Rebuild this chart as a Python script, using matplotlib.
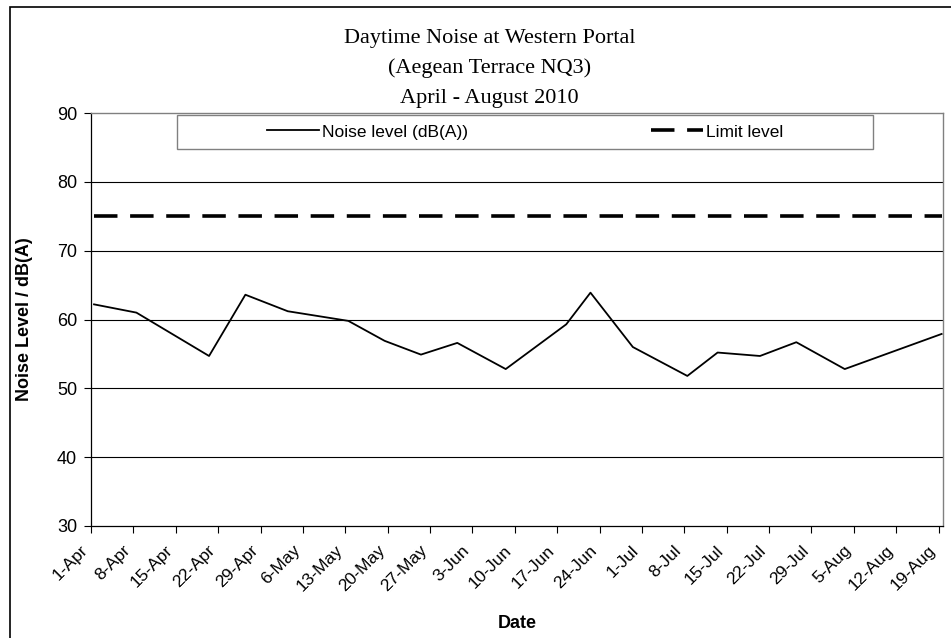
import pandas as pd
import matplotlib
matplotlib.use("Agg")
import matplotlib.pyplot as plt
from matplotlib.patches import Rectangle

# measurement dates and daytime noise levels (dB(A))
dates = ["1-Apr", "8-Apr", "20-Apr", "26-Apr", "3-May", "13-May", "19-May",
         "25-May", "31-May", "8-Jun", "18-Jun", "22-Jun", "29-Jun", "8-Jul",
         "13-Jul", "20-Jul", "26-Jul", "3-Aug", "19-Aug"]
noise = [62.2, 61.0, 54.7, 63.6, 61.2, 59.8, 56.9, 54.9, 56.6, 52.8,
         59.3, 63.9, 56.0, 51.8, 55.2, 54.7, 56.7, 52.8, 57.9]
limit = 75

tick_labels = ["1-Apr", "8-Apr", "15-Apr", "22-Apr", "29-Apr", "6-May", "13-May",
               "20-May", "27-May", "3-Jun", "10-Jun", "17-Jun", "24-Jun", "1-Jul",
               "8-Jul", "15-Jul", "22-Jul", "29-Jul", "5-Aug", "12-Aug", "19-Aug"]
y_ticks = [30, 40, 50, 60, 70, 80, 90]
title_lines = ["Daytime Noise at Western Portal", "(Aegean Terrace NQ3)", "April - August 2010"]


def to_date(s):
    return pd.to_datetime(s + "-2010", format="%d-%b-%Y")


# excel date axis puts each point in the middle of its day
x = [to_date(d) + pd.Timedelta(hours=12) for d in dates]
xt = [to_date(d) for d in tick_labels]

plt.rcParams["font.family"] = ["Liberation Sans", "DejaVu Sans"]

fig = plt.figure(figsize=(9.51, 6.38), dpi=100)
ax = fig.add_axes([91 / 951, 1 - 526 / 638, 852 / 951, 413 / 638])

# outer chart border (only left/top visible in the screenshot)
fig.patches.append(Rectangle((10 / 951, -0.1), 2, 1.1 - 7 / 638, transform=fig.transFigure,
                             fill=False, edgecolor="black", linewidth=1.2))

for yv in y_ticks[1:-1]:
    ax.axhline(yv, color="black", linewidth=0.8, zorder=1)

ax.plot(x, noise, color="black", linewidth=1.3, label="Noise level (dB(A))", zorder=3)
ax.plot([x[0], x[-1]], [limit, limit], color="black", linewidth=2.6,
        linestyle=(0, (6.5, 3.5)), label="Limit level", zorder=3)

ax.set_ylim(30, 90)
ax.set_yticks(y_ticks)
ax.set_xlim(to_date("1-Apr"), pd.Timestamp("2010-08-19 17:30"))
ax.set_xticks(xt)
ax.set_xticklabels(tick_labels, rotation=45, ha="right")
ax.minorticks_off()

ax.tick_params(axis="y", direction="out", length=5, width=0.8, pad=5, labelsize=13)
ax.tick_params(axis="x", direction="out", length=5, width=0.8, pad=7, labelsize=12.5)

for s in ["left", "bottom"]:
    ax.spines[s].set_color("black")
    ax.spines[s].set_linewidth(0.9)
for s in ["top", "right"]:
    ax.spines[s].set_color("#808080")
    ax.spines[s].set_linewidth(1.0)

ax.set_ylabel("Noise Level / dB(A)", fontsize=13, fontweight="bold")
ax.yaxis.set_label_coords(-0.068, 0.5)
ax.set_xlabel("Date", fontsize=13, fontweight="bold")
ax.xaxis.set_label_coords(0.5, -0.215)

for i, line in enumerate(title_lines):
    fig.text(0.515, 1 - (39 + 29.5 * i) / 638, line, ha="center", va="center",
             fontsize=16, family="Liberation Serif")

# legend box drawn separately, entries centred inside it
ax.add_patch(Rectangle((0.101, 0.913), 0.817, 0.082, transform=ax.transAxes,
                       facecolor="white", edgecolor="#808080", linewidth=1.0, zorder=4))
leg = ax.legend(loc="center", ncol=2, bbox_to_anchor=(0.5095, 0.954),
                fontsize=12.5, handlelength=3.0, handletextpad=0.2,
                columnspacing=10.5, frameon=False, borderaxespad=0)
leg.set_zorder(5)

fig.savefig("out.png", dpi=100)
